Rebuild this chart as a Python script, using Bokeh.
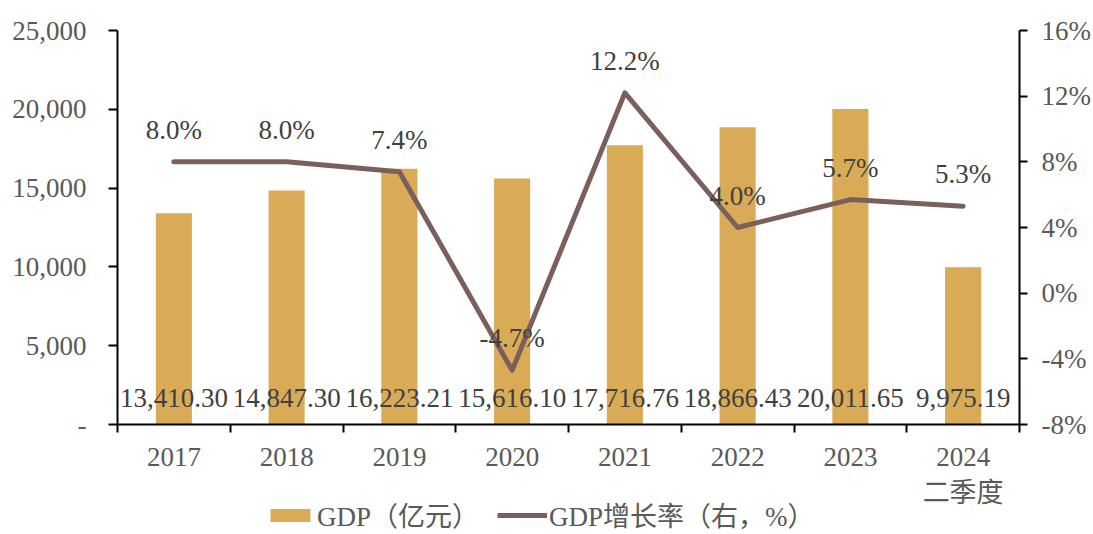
from bokeh.plotting import figure
from bokeh.layouts import column
from bokeh.models import (ColumnDataSource, Range1d, LinearAxis, FixedTicker,
                          Legend, LegendItem)
from bokeh.core.properties import value
from bokeh.embed import file_html
from bokeh.resources import INLINE

categories = ["2017", "2018", "2019", "2020", "2021", "2022", "2023", "2024\n二季度"]
gdp = [13410.30, 14847.30, 16223.21, 15616.10, 17716.76, 18866.43, 20011.65, 9975.19]
growth = [8.0, 8.0, 7.4, -4.7, 12.2, 4.0, 5.7, 5.3]
gdp_labels = ["13,410.30", "14,847.30", "16,223.21", "15,616.10", "17,716.76",
              "18,866.43", "20,011.65", "9,975.19"]
growth_labels = ["8.0%", "8.0%", "7.4%", "-4.7%", "12.2%", "4.0%", "5.7%", "5.3%"]
left_ticks = [0, 5000, 10000, 15000, 20000, 25000]
left_tick_labels = ["-", "5,000", "10,000", "15,000", "20,000", "25,000"]
right_ticks = [-8, -4, 0, 4, 8, 12, 16]
right_tick_labels = ["-8%", "-4%", "0%", "4%", "8%", "12%", "16%"]
legend_labels = ["GDP（亿元）", "GDP增长率（右，%）"]

FONT = "'Liberation Serif', 'Times New Roman', 'Noto Sans CJK SC', serif"
BAR = "#D9AB57"
LINE = "#7A5F5C"
TXT = "#404040"
TICK = "#595959"
FS = "27px"

xs = [i + 0.5 for i in range(len(categories))]
src = ColumnDataSource(dict(x=xs, gdp=gdp, growth=growth, gl=gdp_labels,
                            pl=growth_labels, zero=[0] * len(xs)))

p = figure(width=1093, height=510, output_backend="svg", toolbar_location=None,
           x_range=Range1d(0, len(categories)), y_range=Range1d(0, 25000),
           min_border_left=117, min_border_right=71, min_border_top=30,
           min_border_bottom=85, outline_line_color=None)
p.extra_y_ranges = {"r": Range1d(-8, 16)}
p.grid.visible = False
p.background_fill_color = "white"

bars = p.vbar(x="x", top="gdp", width=0.32, source=src, fill_color=BAR,
              line_color=None)
line = p.line(x="x", y="growth", source=src, y_range_name="r", line_color=LINE,
              line_width=5, line_cap="round", line_join="round")

p.text(x="x", y="zero", text="gl", source=src, text_align="center",
       text_baseline="middle", y_offset=-27, text_font=value(FONT),
       text_font_size=FS, text_color=TXT)
p.text(x="x", y="growth", text="pl", source=src, y_range_name="r",
       text_align="center", text_baseline="middle", y_offset=-32,
       text_font=value(FONT), text_font_size=FS, text_color=TXT)

# x axis
xa = p.xaxis[0]
xa.ticker = FixedTicker(ticks=xs, minor_ticks=list(range(len(categories) + 1)))
xa.major_label_overrides = {x: c for x, c in zip(xs, categories)}
xa.major_tick_line_color = None
xa.major_tick_out = 0
xa.major_tick_in = 0
xa.minor_tick_line_color = "black"
xa.minor_tick_out = 8
xa.minor_tick_in = 0
xa.minor_tick_line_width = 2
xa.axis_line_color = "black"
xa.axis_line_width = 2
xa.major_label_text_font = FONT
xa.major_label_text_font_size = FS
xa.major_label_text_color = TICK
xa.major_label_standoff = 9

# left y axis
ya = p.yaxis[0]
ya.ticker = FixedTicker(ticks=left_ticks)
ya.major_label_overrides = {t: l for t, l in zip(left_ticks, left_tick_labels)}
ya.minor_tick_line_color = None
ya.major_tick_out = 9
ya.major_tick_in = 0
ya.major_tick_line_width = 2
ya.axis_line_width = 2
ya.major_label_text_font = FONT
ya.major_label_text_font_size = FS
ya.major_label_text_color = TICK
ya.major_label_standoff = 22

ra = LinearAxis(y_range_name="r", ticker=FixedTicker(ticks=right_ticks))
ra.major_label_overrides = {t: l for t, l in zip(right_ticks, right_tick_labels)}
ra.minor_tick_line_color = None
ra.major_tick_out = 8
ra.major_tick_in = 0
ra.major_tick_line_width = 2
ra.axis_line_width = 2
ra.major_label_text_font = FONT
ra.major_label_text_font_size = FS
ra.major_label_text_color = TICK
ra.major_label_standoff = 14
p.add_layout(ra, "right")

# legend figure (renderers hold one point outside the visible range)
lg = figure(width=1093, height=32, output_backend="svg", toolbar_location=None,
            x_range=Range1d(0, 1), y_range=Range1d(0, 1), min_border=0,
            outline_line_color=None, margin=(-8, 0, 0, 0))
lg.axis.visible = False
lg.grid.visible = False
lg.background_fill_alpha = 0
lg.border_fill_alpha = 0
dummy = ColumnDataSource(dict(x=[-10, -11], y=[-10, -10], top=[-10, -10]))
lb = lg.vbar(x="x", top="top", width=0.1, source=dummy, fill_color=BAR, line_color=None)
ll = lg.line(x="x", y="y", source=dummy, line_color=LINE, line_width=5)
legend = Legend(items=[LegendItem(label=legend_labels[0], renderers=[lb]),
                       LegendItem(label=legend_labels[1], renderers=[ll])],
                orientation="horizontal", location=(148, 0),
                label_text_font=FONT, label_text_font_size="27px",
                label_text_color=TICK, glyph_width=50, glyph_height=16,
                spacing=18, label_standoff=2, background_fill_alpha=0,
                border_line_color=None, padding=0, margin=0)
lg.add_layout(legend, "center")

open("out.html", "w").write(file_html(column(p, lg, spacing=0), INLINE))
